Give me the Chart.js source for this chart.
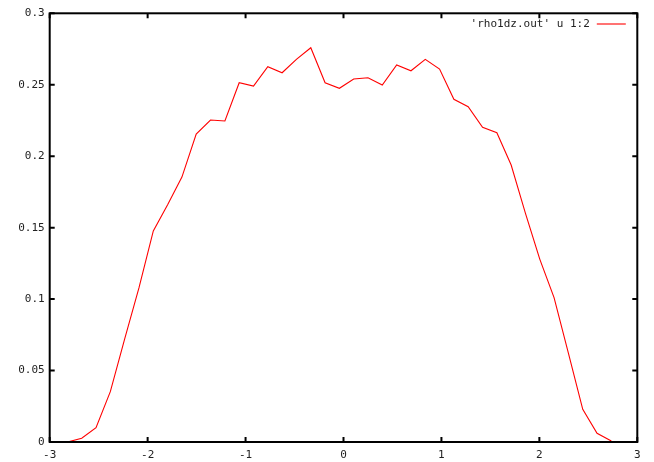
<!DOCTYPE html>
<html>
<head>
<meta charset="utf-8">
<script src="https://cdn.jsdelivr.net/npm/chart.js@4.4.0/dist/chart.umd.min.js"></script>
<style>
  html, body { margin: 0; padding: 0; background: #fff; }
  #plot { display: block; }
</style>
</head>
<body>
<canvas id="plot" width="654" height="462"></canvas>
<script>
// rho1dz.out, column 1 (z) against column 2 (rho)
const zValues = [
  -2.819, -2.673, -2.527, -2.381, -2.235, -2.088, -1.942, -1.796, -1.650, -1.504,
  -1.358, -1.211, -1.065, -0.919, -0.773, -0.627, -0.481, -0.334, -0.188, -0.042,
   0.104,  0.250,  0.396,  0.543,  0.689,  0.835,  0.981,  1.127,  1.273,  1.420,
   1.566,  1.712,  1.858,  2.004,  2.150,  2.297,  2.443,  2.589,  2.735
];
const rhoValues = [
  0.0000, 0.0026, 0.0100, 0.0352, 0.0720, 0.1080, 0.1477, 0.1660, 0.1854, 0.2155,
  0.2253, 0.2246, 0.2514, 0.2491, 0.2626, 0.2584, 0.2678, 0.2759, 0.2514, 0.2475,
  0.2540, 0.2549, 0.2498, 0.2638, 0.2598, 0.2678, 0.2610, 0.2398, 0.2346, 0.2202,
  0.2164, 0.1938, 0.1600, 0.1280, 0.1010, 0.0620, 0.0229, 0.0061, 0.0007
];
const xTicks = [-3, -2, -1, 0, 1, 2, 3];
const xTickLabels = ['-3', '-2', '-1', '0', '1', '2', '3'];
const yTicks = [0, 0.05, 0.1, 0.15, 0.2, 0.25, 0.3];
const yTickLabels = ['0', '0.05', '0.1', '0.15', '0.2', '0.25', '0.3'];
const seriesLabel = "'rho1dz.out' u 1:2";

const FONT = { family: "'DejaVu Sans Mono', 'Liberation Mono', monospace", size: 11 };
const TICK_LEN = 5;

// border box plus inward tick marks on all four sides, gnuplot style
const frameAndTicks = {
  id: 'frameAndTicks',
  afterDatasetsDraw(chart) {
    const { ctx, chartArea: a, scales: { x, y } } = chart;
    ctx.save();
    ctx.strokeStyle = '#000';
    ctx.lineWidth = 2;
    ctx.beginPath();
    xTicks.forEach(v => {
      const px = x.getPixelForValue(v);
      ctx.moveTo(px, a.bottom); ctx.lineTo(px, a.bottom - TICK_LEN);
      ctx.moveTo(px, a.top); ctx.lineTo(px, a.top + TICK_LEN);
    });
    yTicks.forEach(v => {
      const py = y.getPixelForValue(v);
      ctx.moveTo(a.left, py); ctx.lineTo(a.left + TICK_LEN, py);
      ctx.moveTo(a.right, py); ctx.lineTo(a.right - TICK_LEN, py);
    });
    ctx.stroke();
    ctx.strokeRect(a.left, a.top, a.right - a.left, a.bottom - a.top);
    ctx.restore();
  }
};

// key in the top right corner: text first, line sample after it
const keyBox = {
  id: 'keyBox',
  afterDraw(chart) {
    const { ctx, chartArea: a } = chart;
    const ds = chart.data.datasets[0];
    const sampleEnd = a.right - 11.5;
    const sampleStart = sampleEnd - 29;
    const yMid = a.top + 10.7;
    ctx.save();
    ctx.font = `${FONT.size}px ${FONT.family}`;
    ctx.fillStyle = '#222';
    ctx.textAlign = 'right';
    ctx.textBaseline = 'middle';
    ctx.fillText(ds.label, sampleStart - 7, yMid);
    ctx.strokeStyle = ds.borderColor;
    ctx.lineWidth = ds.borderWidth;
    ctx.beginPath();
    ctx.moveTo(sampleStart, yMid);
    ctx.lineTo(sampleEnd, yMid);
    ctx.stroke();
    ctx.restore();
  }
};

new Chart(document.getElementById('plot'), {
  type: 'line',
  data: {
    datasets: [{
      label: seriesLabel,
      data: zValues.map((z, i) => ({ x: z, y: rhoValues[i] })),
      borderColor: '#ff0000',
      borderWidth: 1.1,
      pointRadius: 0,
      tension: 0,
      fill: false
    }]
  },
  options: {
    responsive: false,
    animation: false,
    layout: { padding: { top: 13.3, right: 16.7, left: 0, bottom: 0 } },
    plugins: {
      legend: { display: false },
      tooltip: { enabled: false }
    },
    scales: {
      x: {
        type: 'linear',
        min: -3,
        max: 3,
        afterBuildTicks: s => { s.ticks = xTicks.map(v => ({ value: v })); },
        afterFit: s => { s.height = 20; },
        grid: { display: false, drawTicks: false },
        border: { display: false },
        ticks: {
          font: FONT,
          color: '#222',
          padding: 7,
          maxRotation: 0,
          callback: (v, i) => xTickLabels[i]
        }
      },
      y: {
        type: 'linear',
        min: 0,
        max: 0.3,
        afterBuildTicks: s => { s.ticks = yTicks.map(v => ({ value: v })); },
        afterFit: s => { s.width = 49.7; },
        grid: { display: false, drawTicks: false },
        border: { display: false },
        ticks: {
          font: FONT,
          color: '#222',
          padding: 5,
          callback: (v, i) => yTickLabels[i]
        }
      }
    }
  },
  plugins: [frameAndTicks, keyBox]
});
</script>
</body>
</html>
